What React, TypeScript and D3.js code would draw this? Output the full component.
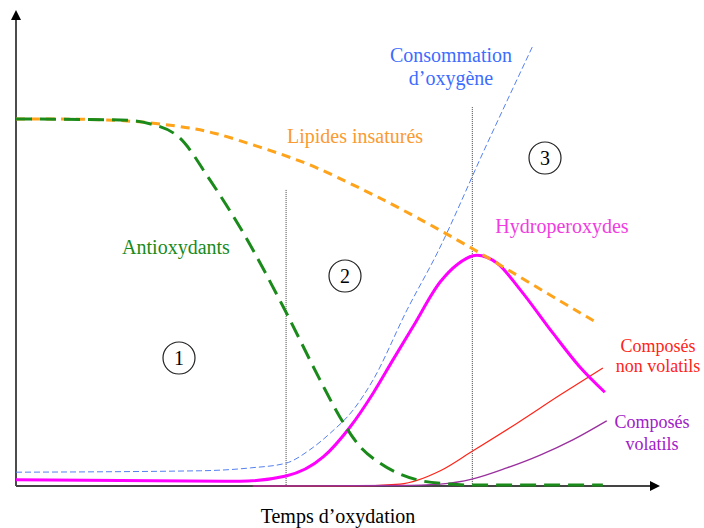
import * as d3 from "d3";

// time (0-100) vs level (0-100)
const antioxTime = [0, 16.3, 20.9, 25.6, 30.3, 35.5, 42.0, 47.5, 50.6, 53.8, 56.9, 62.7, 67.8, 71.4, 91.7];
const antioxVal = [77.1, 76.9, 76.1, 73.1, 64.3, 53.2, 37.0, 22.3, 14.5, 8.2, 4.8, 1.3, 0.4, 0.2, 0.2];

const lipidTime = [0, 16.3, 25.6, 30.8, 38.1, 45.5, 51.7, 56.9, 62, 71.3, 80.3, 90.9];
const lipidVal = [77.1, 77.1, 75.6, 74.4, 71.2, 67.9, 63.9, 60.5, 56.9, 50, 42.6, 34.2];

const oxyTime = [0, 28.8, 36.6, 42.2, 45.9, 49.1, 52.7, 55.8, 61.1, 65.8, 73.3, 80.8];
const oxyVal = [2.9, 3.2, 3.8, 4.8, 7.6, 11.1, 16.0, 22.3, 37.0, 48.9, 71.0, 92.6];

const hydroTime = [0, 35, 42.2, 48, 52.2, 55.8, 58.9, 62, 66.3, 69, 72, 75.2, 78.8, 83.9, 88.1, 92];
const hydroVal = [1.3, 1.0, 2.1, 6.1, 12.4, 19.5, 26.5, 33.4, 42.9, 46.6, 48.5, 46.8, 41.2, 32.1, 25, 19.7];

const nonVolTime = [37, 52.2, 60, 66.3, 71.4, 78.3, 85, 91.7];
const nonVolVal = [0, 0, 0.4, 3.2, 7.4, 13.2, 19.1, 24.8];

const volTime = [37, 60, 66.3, 71.4, 76.7, 81.9, 87, 92.3];
const volVal = [0, 0.1, 0.4, 1.5, 3.8, 6.5, 9.7, 13.7];

// phase boundaries
const phaseTime = [42.2, 71.3];
const phaseTop = [62.2, 79.6];

const W = 704;
const H = 528;
const serif = "'Liberation Serif', 'Times New Roman', serif";

const x = d3.scaleLinear().domain([0, 100]).range([16, 656]);
const y = d3.scaleLinear().domain([0, 100]).range([486, 10]);

const zip = (t: number[], v: number[]) => t.map((d, i) => [d, v[i]] as [number, number]);

const line = d3
  .line<[number, number]>()
  .x(d => x(d[0]))
  .y(d => y(d[1]))
  .curve(d3.curveMonotoneX);

// lipid curve is a gentle slope, smooth it out
const smooth = d3
  .line<[number, number]>()
  .x(d => x(d[0]))
  .y(d => y(d[1]))
  .curve(d3.curveBasis);

export default function App() {
  return (
    <svg
      width={W}
      height={H}
      style={{ position: "absolute", left: 0, top: 0, background: "#fff" }}
      fontFamily={serif}
    >
      {/* phase separators */}
      {phaseTime.map((t, i) => (
        <line
          key={i}
          x1={x(t)}
          x2={x(t)}
          y1={y(phaseTop[i])}
          y2={y(0)}
          stroke="#444"
          strokeWidth={1}
          strokeDasharray="1,1"
        />
      ))}

      {/* axes */}
      <line x1={x(0)} x2={x(0)} y1={y(0)} y2={y(100) + 8} stroke="#111" strokeWidth={1.5} />
      <path d={`M${x(0) - 5},${y(100) + 10}L${x(0) + 5},${y(100) + 10}L${x(0)},${y(100)}Z`} fill="#000" />
      <line x1={x(0)} x2={652} y1={y(0)} y2={y(0)} stroke="#444" strokeWidth={2} />
      <path d={`M650,${y(0) - 5}L650,${y(0) + 5}L660,${y(0)}Z`} fill="#000" />

      {/* minor curves */}
      <path d={line(zip(nonVolTime, nonVolVal)) || ""} fill="none" stroke="#ff2418" strokeWidth={1.2} />
      <path d={line(zip(volTime, volVal)) || ""} fill="none" stroke="#9a2f9e" strokeWidth={1.3} />

      <path
        d={line(zip(oxyTime, oxyVal)) || ""}
        fill="none"
        stroke="#5580f0"
        strokeWidth={1}
        strokeDasharray="6,3"
      />
      <path d={line(zip(hydroTime, hydroVal)) || ""} fill="none" stroke="#ff00ff" strokeWidth={3} />
      <path
        d={smooth(zip(lipidTime, lipidVal)) || ""}
        fill="none"
        stroke="#ffa31a"
        strokeWidth={3}
        strokeDasharray="9,6"
      />
      <path
        d={line(zip(antioxTime, antioxVal)) || ""}
        fill="none"
        stroke="#1a8a1a"
        strokeWidth={3}
        strokeDasharray="16,8"
      />

      {/* labels */}
      <g fontSize={20}>
        <text x={451} y={62} textAnchor="middle" fill="#3d6cff">Consommation</text>
        <text x={451} y={85} textAnchor="middle" fill="#3d6cff">d’oxygène</text>
        <text x={355} y={143} textAnchor="middle" fill="#fb9a30">Lipides insaturés</text>
        <text x={562} y={233} textAnchor="middle" fill="#f03ce0">Hydroperoxydes</text>
        <text x={176} y={254} textAnchor="middle" fill="#1a8a1a">Antioxydants</text>
        <text x={338} y={523} textAnchor="middle" fill="#000">Temps d’oxydation</text>
      </g>
      <g fontSize={18} textAnchor="middle">
        <text x={658} y={352} fill="#ff2418">Composés</text>
        <text x={658} y={372} fill="#ff2418">non volatils</text>
        <text x={652} y={428} fill="#a020c8">Composés</text>
        <text x={652} y={450} fill="#a020c8">volatils</text>
      </g>

      {/* phase numbers */}
      {[
        ["1", 179, 358],
        ["2", 345, 276],
        ["3", 545, 158],
      ].map(([n, cx, cy]) => (
        <g key={n as string}>
          <circle cx={cx as number} cy={cy as number} r={16} fill="none" stroke="#222" strokeWidth={1.2} />
          <text x={cx as number} y={(cy as number) + 7} textAnchor="middle" fontSize={20} fill="#000">
            {n}
          </text>
        </g>
      ))}
    </svg>
  );
}
